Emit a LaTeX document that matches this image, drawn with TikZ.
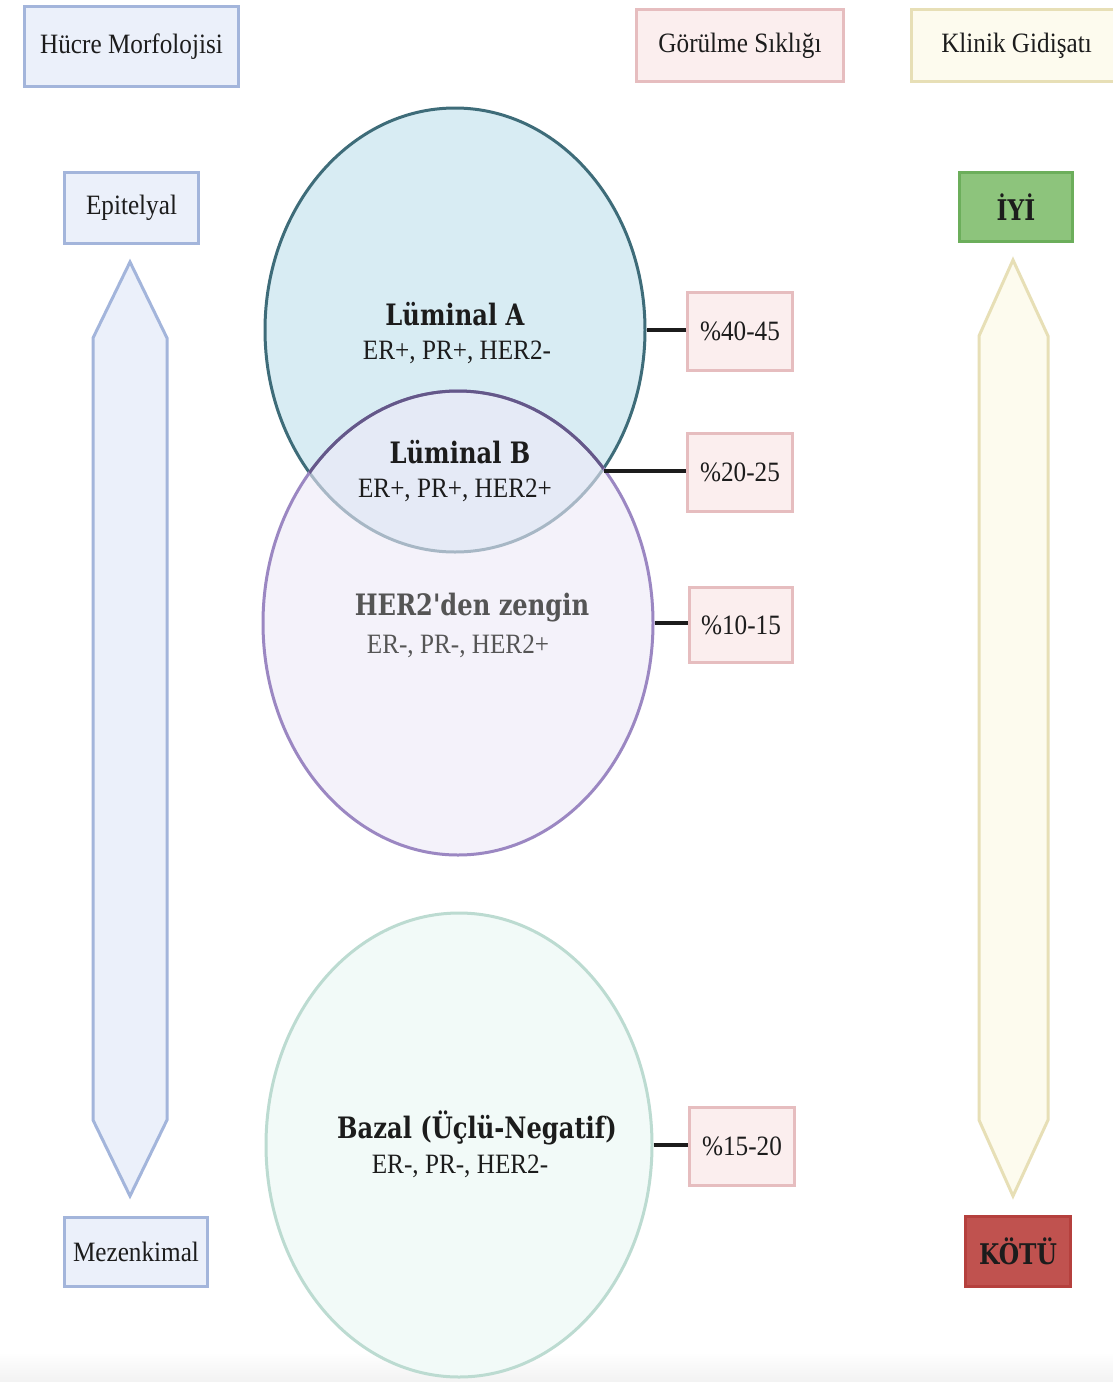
\documentclass[tikz,border=0pt]{standalone}
\usepackage{fontspec}
\setmainfont{Liberation Serif}[FakeStretch=0.9]
\newfontfamily\slab{DejaVu Serif}[FakeStretch=0.82]
\usetikzlibrary{shapes.geometric}

\definecolor{morphFill}{HTML}{EBF0FA}
\definecolor{morphLine}{HTML}{A3B5DB}
\definecolor{freqFill}{HTML}{FBEEEE}
\definecolor{freqLine}{HTML}{E6BDBF}
\definecolor{clinFill}{HTML}{FDFBEE}
\definecolor{clinLine}{HTML}{E7DFB6}
\definecolor{goodFill}{HTML}{8DC47C}
\definecolor{goodLine}{HTML}{6CAE5B}
\definecolor{badFill}{HTML}{C0524F}
\definecolor{badLine}{HTML}{B5403D}
\definecolor{lumAFill}{HTML}{D8ECF3}
\definecolor{lumALine}{HTML}{3E6C79}
\definecolor{herFill}{HTML}{EEEAF8}
\definecolor{herLine}{HTML}{9B87C2}
\definecolor{herLineDark}{HTML}{645889}
\definecolor{basFill}{HTML}{F2FAF8}
\definecolor{basLine}{HTML}{BCDBD1}
\definecolor{ink}{HTML}{1C1C1C}
\definecolor{greyInk}{HTML}{555555}

\tikzset{
  x=1pt, y=-1pt,
  every node/.style={text=ink, font=\fontsize{28}{32}\selectfont},
  framebox/.style={draw, line width=3pt, rectangle, inner sep=0pt, anchor=north west},
  morph/.style={framebox, fill=morphFill, draw=morphLine},
  freq/.style={framebox, fill=freqFill, draw=freqLine},
  clin/.style={framebox, fill=clinFill, draw=clinLine},
  subtype/.style={ellipse, line width=3pt, inner sep=0pt},
  title/.style={font=\slab\bfseries\fontsize{29.5}{32}\selectfont},
  verdict/.style={framebox, font=\slab\bfseries\fontsize{28.5}{32}\selectfont},
  link/.style={draw=ink, line width=3.5pt},
  bigarrow/.style={line width=3pt, line join=miter},
}

\begin{document}
\begin{tikzpicture}
\useasboundingbox (0,0) rectangle (1113,1382);
\fill[white] (0,0) rectangle (1113,1382);
\shade[top color=white, bottom color=black!5] (0,1352) rectangle (1113,1382);

% column headers
\node[morph, minimum width=214pt, minimum height=80pt] (hdrMorph) at (23,5) {Hücre Morfolojisi};
\node[freq, minimum width=207pt, minimum height=72pt] (hdrFreq) at (635,8) {Görülme Sıklığı};
\node[clin, minimum width=210pt, minimum height=72pt] (hdrClin) at (910,8) {Klinik Gidişatı};

% cell morphology scale
\node[morph, minimum width=134pt, minimum height=71pt] (epi) at (63,171) {Epitelyal};
\node[morph, minimum width=143pt, minimum height=69pt] (mes) at (63,1216) {Mezenkimal};
\filldraw[bigarrow, fill=morphFill, draw=morphLine]
  (130,262) -- (167,338) -- (167,1120) -- (130,1196) -- (93,1120) -- (93,338) -- cycle;

% clinical course scale
\node[verdict, fill=goodFill, draw=goodLine, minimum width=113pt, minimum height=69pt] (good) at (958,171) {İYİ};
\node[verdict, fill=badFill, draw=badLine, minimum width=105pt, minimum height=70pt] (bad) at (964,1215) {KÖTÜ};
\filldraw[bigarrow, fill=clinFill, draw=clinLine]
  (1013,260) -- (1048,336) -- (1048,1120) -- (1013,1196) -- (979,1120) -- (979,336) -- cycle;

% subtype circles
\node[subtype, fill=lumAFill, draw=lumALine, minimum width=380pt, minimum height=444pt] (lumA) at (455,330) {};
\node[subtype, fill=herFill, fill opacity=0.6, draw=herLine, minimum width=390pt, minimum height=464pt] (her2) at (458,623) {};
\begin{scope}
  \clip (455,330) ellipse [x radius=190pt, y radius=222pt];
  \draw[line width=3pt, herLineDark] (458,623) ellipse [x radius=195pt, y radius=232pt];
\end{scope}
\node[subtype, fill=basFill, draw=basLine, minimum width=386pt, minimum height=464pt] (basal) at (459,1145) {};

% subtype labels
\node[title] (lumAName) at (455,314) {Lüminal A};
\node (lumAMark) at (457,352) {ER+, PR+, HER2-};
\node[title] (lumBName) at (460,452) {Lüminal B};
\node (lumBMark) at (455,490) {ER+, PR+, HER2+};
\node[title, text=greyInk] (herName) at (472,608) {HER2'den zengin};
\node[text=greyInk] (herMark) at (458,646) {ER-, PR-, HER2+};
\node[title] (basName) at (477,1128) {Bazal (Üçlü-Negatif)};
\node (basMark) at (460,1166) {ER-, PR-, HER2-};

% frequencies
\node[freq, minimum width=105pt, minimum height=78pt] (fA) at (686,291) {\%40-45};
\node[freq, minimum width=105pt, minimum height=78pt] (fB) at (686,432) {\%20-25};
\node[freq, minimum width=103pt, minimum height=75pt] (fH) at (688,586) {\%10-15};
\node[freq, minimum width=105pt, minimum height=78pt] (fBa) at (688,1106) {\%15-20};

\coordinate (lumBEdge) at (604,471);
\draw[link] (lumA.east) -- (lumA.east -| fA.west);
\draw[link] (lumBEdge) -- (lumBEdge -| fB.west);
\draw[link] (her2.east) -- (her2.east -| fH.west);
\draw[link] (basal.east) -- (basal.east -| fBa.west);
\end{tikzpicture}
\end{document}
